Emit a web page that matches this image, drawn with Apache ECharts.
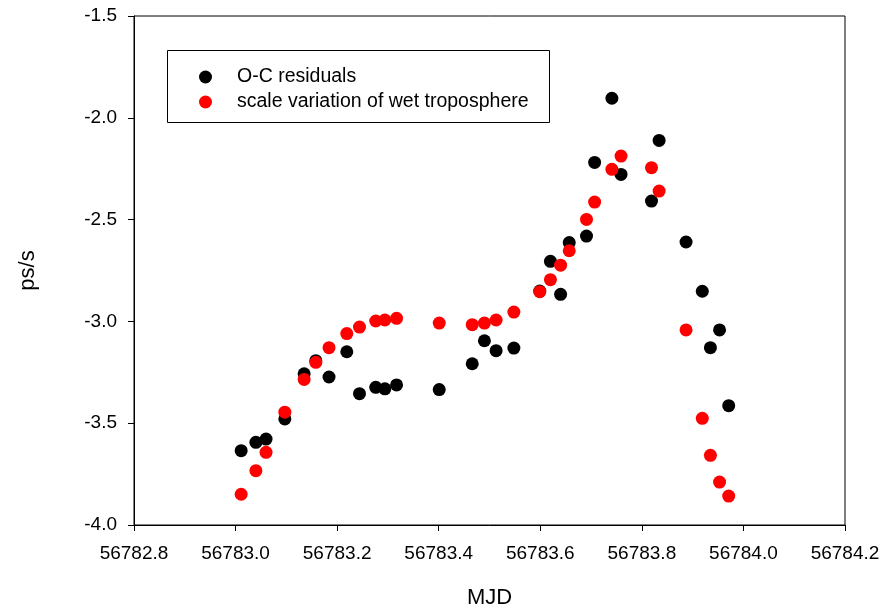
<!DOCTYPE html>
<html>
<head>
<meta charset="utf-8">
<script src="https://cdn.jsdelivr.net/npm/echarts@6/dist/echarts.min.js"></script>
<style>html,body{margin:0;padding:0;background:#fff}#c{width:894px;height:607px}</style>
</head>
<body>
<div id="c"></div>
<script>
const mjd = [56783.011,56783.040,56783.060,56783.097,56783.135,56783.158,56783.184,56783.219,56783.244,56783.276,56783.294,56783.317,56783.401,56783.466,56783.490,56783.513,56783.548,56783.599,56783.620,56783.640,56783.657,56783.691,56783.707,56783.741,56783.759,56783.819,56783.834,56783.887,56783.919,56783.935,56783.953,56783.971];
const ocResiduals = [-3.635,-3.594,-3.578,-3.479,-3.257,-3.193,-3.273,-3.149,-3.355,-3.324,-3.331,-3.312,-3.335,-3.208,-3.095,-3.144,-3.131,-2.851,-2.705,-2.867,-2.613,-2.581,-2.219,-1.904,-2.278,-2.409,-2.111,-2.610,-2.852,-3.129,-3.042,-3.414];
const wetTropo = [-3.849,-3.733,-3.643,-3.446,-3.285,-3.201,-3.129,-3.060,-3.028,-2.998,-2.993,-2.985,-3.008,-3.016,-3.008,-2.993,-2.954,-2.854,-2.795,-2.724,-2.653,-2.499,-2.414,-2.253,-2.188,-2.245,-2.360,-3.042,-3.476,-3.658,-3.789,-3.858];
const seriesNames = ['O-C residuals','scale variation of wet troposphere'];
const xTitle = 'MJD', yTitle = 'ps/s';

const font = 'Liberation Sans, Arial, sans-serif';
const chart = echarts.init(document.getElementById('c'), null, {renderer:'canvas'});
chart.setOption({
  animation:false,
  backgroundColor:'#fff',
  grid:{left:134,right:49,top:16,bottom:82,show:true,borderColor:'#000',borderWidth:1,outerBoundsMode:'none',containLabel:false},
  legend:{
    orient:'vertical', left:199, top:67, padding:0, itemGap:5,
    itemWidth:13, itemHeight:13, icon:'circle',
    textStyle:{fontFamily:font,fontSize:19.5,color:'#000',padding:[0,0,0,20],lineHeight:16},
    data:seriesNames
  },
  graphic:[{type:'rect',shape:{x:167.5,y:50.5,width:382,height:72},style:{fill:'none',stroke:'#000',lineWidth:1},z:-1}],
  xAxis:{
    type:'value', min:56782.8, max:56784.2, interval:0.2,
    name:xTitle, nameLocation:'middle', nameGap:62,
    nameTextStyle:{fontFamily:font,fontSize:22,color:'#000'},
    axisLine:{lineStyle:{color:'#000'}},
    axisTick:{show:true,inside:false,length:6,lineStyle:{color:'#000'}},
    axisLabel:{fontFamily:font,fontSize:19,color:'#000',margin:19,formatter:v=>v.toFixed(1)},
    splitLine:{show:false}
  },
  yAxis:{
    type:'value', min:-4, max:-1.5, interval:0.5,
    name:yTitle, nameLocation:'middle', nameGap:95, nameRotate:90,
    nameTextStyle:{fontFamily:font,fontSize:22,color:'#000'},
    axisLine:{lineStyle:{color:'#000'}},
    axisTick:{show:true,inside:false,length:6,lineStyle:{color:'#000'}},
    axisLabel:{fontFamily:font,fontSize:19,color:'#000',margin:17,formatter:v=>v.toFixed(1)},
    splitLine:{show:false}
  },
  series:[
    {name:seriesNames[0],type:'scatter',symbol:'circle',symbolSize:13,itemStyle:{color:'#000',opacity:1},
     data:mjd.map((x,i)=>[x,ocResiduals[i]])},
    {name:seriesNames[1],type:'scatter',symbol:'circle',symbolSize:13,itemStyle:{color:'#ff0000',opacity:1},
     data:mjd.map((x,i)=>[x,wetTropo[i]])}
  ]
});
</script>
</body>
</html>
